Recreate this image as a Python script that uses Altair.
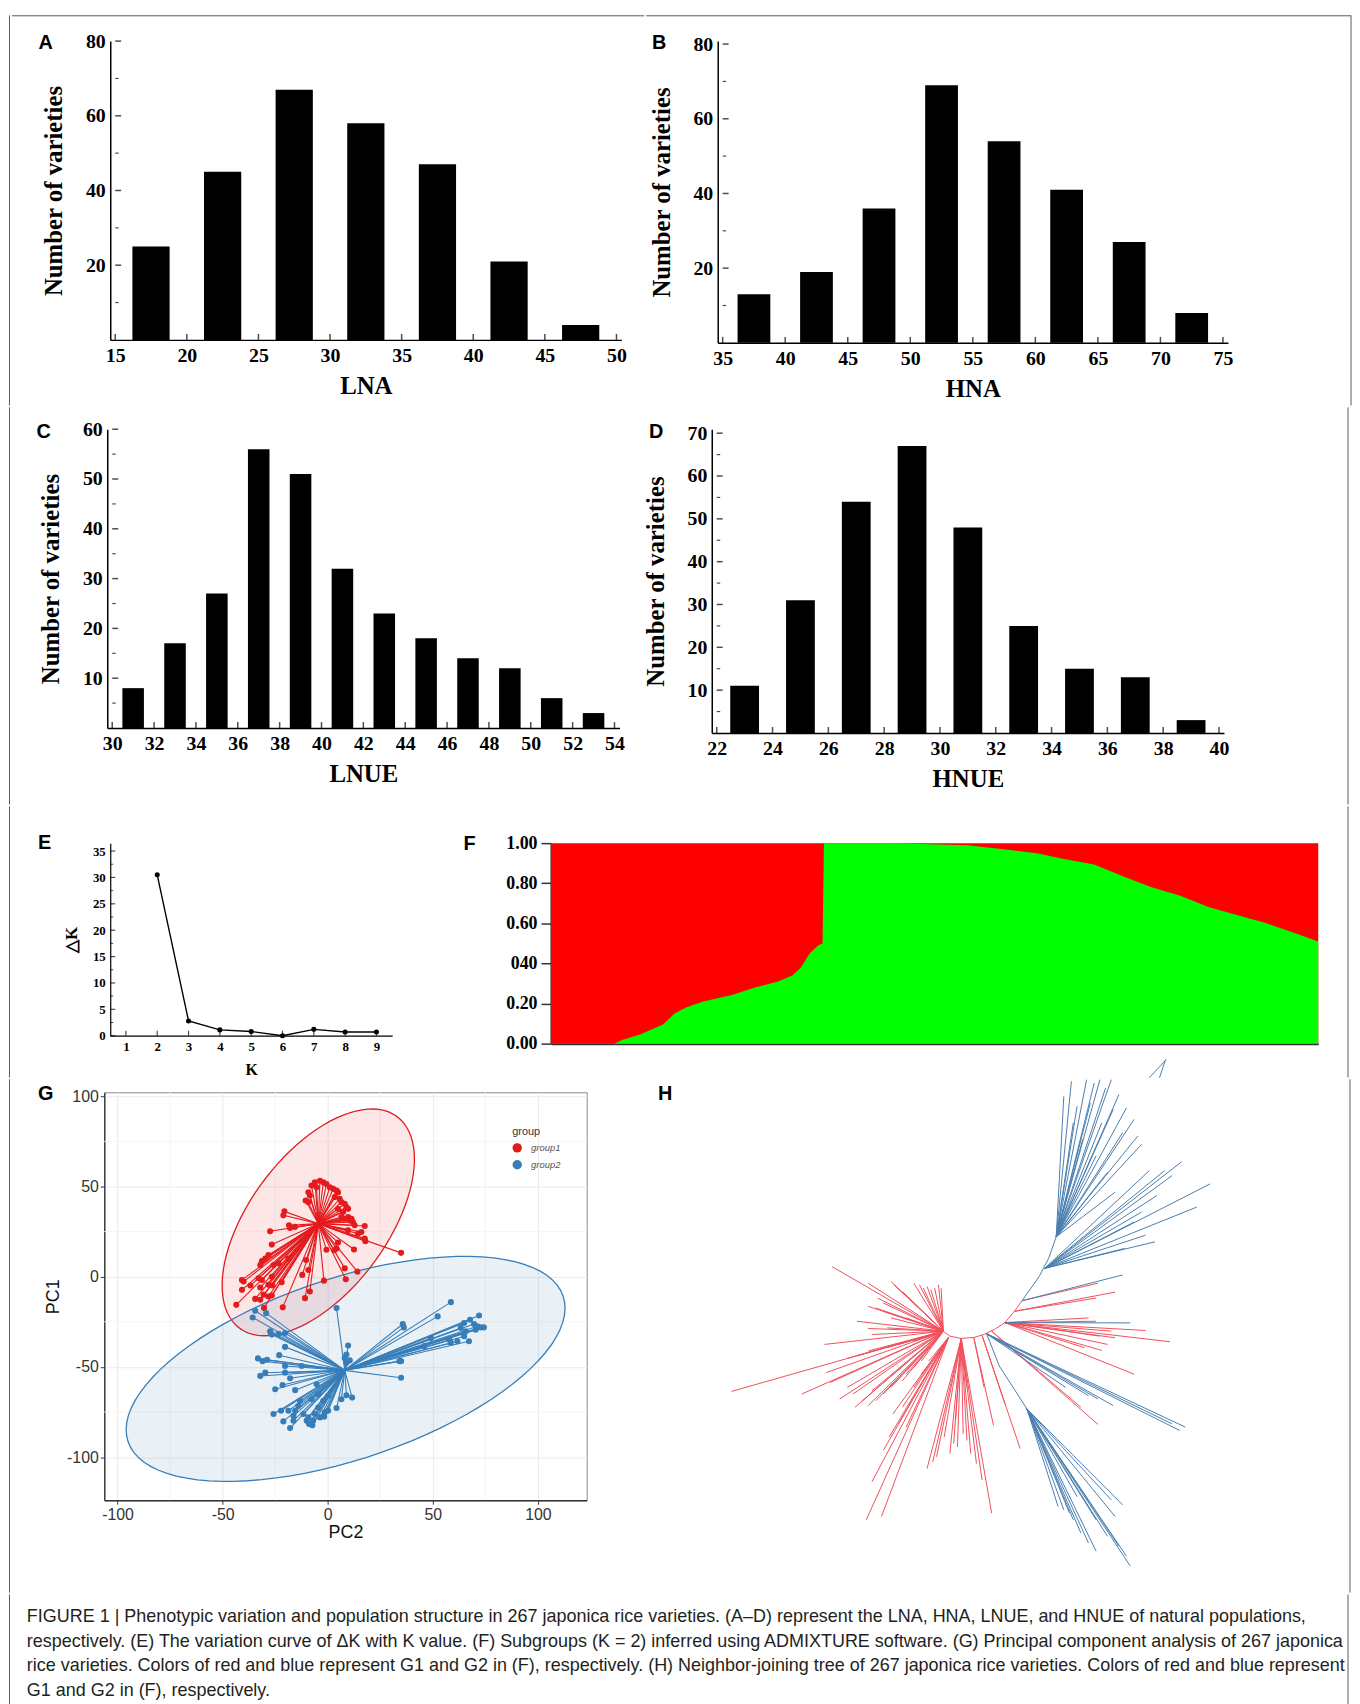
import math
import altair as alt
import pandas as pd

SERIF = "Liberation Serif"
SANS = "Liberation Sans"
FRAME = "#5a5a5a"

# ---------------- A : LNA ----------------
lna_bins = [17.5, 22.5, 27.5, 32.5, 37.5, 42.5, 47.5]
lna_counts = [25, 45, 67, 58, 47, 21, 4]
lna_ticks = [15, 20, 25, 30, 35, 40, 45, 50]
# ---------------- B : HNA ----------------
hna_bins = [37.5, 42.5, 47.5, 52.5, 57.5, 62.5, 67.5, 72.5]
hna_counts = [13, 19, 36, 69, 54, 41, 27, 8]
hna_ticks = [35, 40, 45, 50, 55, 60, 65, 70, 75]
# ---------------- C : LNUE ----------------
lnue_bins = [31, 33, 35, 37, 39, 41, 43, 45, 47, 49, 51, 53]
lnue_counts = [8, 17, 27, 56, 51, 32, 23, 18, 14, 12, 6, 3]
lnue_ticks = [30, 32, 34, 36, 38, 40, 42, 44, 46, 48, 50, 52, 54]
# ---------------- D : HNUE ----------------
hnue_bins = [23, 25, 27, 29, 31, 33, 35, 37, 39]
hnue_counts = [11, 31, 54, 67, 48, 25, 15, 13, 3]
hnue_ticks = [22, 24, 26, 28, 30, 32, 34, 36, 38, 40]

count_ticks_80 = [20, 40, 60, 80]
count_minor_80 = [10, 30, 50, 70]
count_ticks_60 = [10, 20, 30, 40, 50, 60]
count_minor_60 = [5, 15, 25, 35, 45, 55]
count_ticks_70 = [10, 20, 30, 40, 50, 60, 70]
count_minor_70 = [5, 15, 25, 35, 45, 55, 65]

# ---------------- E : delta K ----------------
k_values = [2, 3, 4, 5, 6, 7, 8, 9]
dk_values = [30.5, 2.8, 1.1, 0.8, 0.0, 1.2, 0.7, 0.7]
k_ticks = [1, 2, 3, 4, 5, 6, 7, 8, 9]
dk_ticks = [0, 5, 10, 15, 20, 25, 30, 35]
dk_minor = [2.5, 7.5, 12.5, 17.5, 22.5, 27.5, 32.5]

# ---------------- F : ADMIXTURE (K=2) ----------------
f_pos = [0, 22, 25, 31, 39, 43, 47, 53, 63, 71, 79, 84, 87, 90, 93, 94.5, 95,
         119, 145, 159, 169, 179, 189, 199, 209, 219, 229, 239, 249, 259, 267]
f_green = [0, 0, 0.02, 0.046, 0.095, 0.15, 0.18, 0.21, 0.243, 0.28, 0.31, 0.34,
           0.38, 0.45, 0.49, 0.50, 1.0, 1.0, 0.99, 0.967, 0.95, 0.92, 0.893,
           0.835, 0.78, 0.737, 0.68, 0.64, 0.60, 0.55, 0.51]
f_ticks = [0, 0.2, 0.4, 0.6, 0.8, 1.0]

# ---------------- G : PCA ----------------
g1_pc2 = [-6.1, -3.7, -2.1, -0.6, -7.7, -5.3, 1.0, 2.6, 4.2, 4.9, -9.2, -8.5, 3.4, 5.7,
          6.5, 8.1, 8.9, 9.7, -10.5, -9.2, 4.9, 7.3, 9.7, 11.3, 12.0, 10.5, 8.1, 6.5,
          -20.6, -21.1, -18.4, -17.9, -15.6, -27.4, -26.6,
          12.8, 17.6, 16.0, 17.6, 17.9, 14.4, 9.7, 34.9, 12.5, 4.9, 4.2, 3.1, -0.6, 8.1, 14.1, 8.6,
          -31.3, -29.7, -32.1, -28.2, -25.8, -18.7, -23.4, -40.8, -40.0, -36.8, -40.8, -32.9,
          -31.3, -28.2, -26.3, -21.9, -26.6, -32.1, -30.5, -34.5, -32.1, -28.2, -43.5, -26.6,
          -10.3, -9.2, -12.1, -8.5, -10.8, -21.4, -1.8, -30.3]
g1_pc1 = [52.3, 53.2, 52.3, 51.4, 50.5, 49.6, 49.6, 48.7, 47.7, 46.8, 46.8, 45.0, 44.1, 43.2,
          41.3, 40.4, 38.6, 37.6, 42.2, 41.3, 37.6, 35.8, 33.1, 32.1, 30.3, 31.2, 32.1, 33.1,
          36.2, 34.0, 28.5, 27.0, 27.6, 25.2, 17.8,
          28.5, 28.1, 24.8, 21.1, 19.7, 23.9, 25.7, 13.2, 15.1, 18.9, 15.6, 14.7, 14.9, 4.6, 2.8, -1.4,
          8.7, 10.1, 6.5, 12.0, 6.5, 10.1, 7.4, -1.8, -2.7, -4.9, -7.3, -0.9,
          -1.8, -4.5, -4.9, -3.1, 0.0, -6.0, -10.0, -12.3, -12.8, -11.0, -15.6, -10.4,
          9.2, 3.7, 1.0, -8.2, -11.9, -17.0, -2.2, -17.3]
g2_pc2 = [-34.5, -29.3, -35.7, -27.4, -26.6, -23.4, -20.3, -27.1, 4.2,
          58.6, 52.3, 35.7, 36.2, 72.0, 67.7, 64.9, 69.6, 71.2, 72.8, 74.3, 70.4, 63.3, 65.7,
          49.1, 57.8, 61.7, 67.2, 64.9, 58.6, 46.0, 34.1, 34.9,
          9.7, 8.9, 8.1, 10.5, 8.9,
          -20.3, -23.1, -33.2, -31.0, -28.9, -20.3, -12.4, -29.7, -32.1, -20.3, -17.9, -21.5,
          -25.0, -15.5, -5.3, 34.9,
          -13.2, -7.7, -2.1, 6.5, 8.9, 11.6, 4.2, -25.8, -22.2, -18.7, -16.3, -15.5, -21.1,
          -16.3, -17.9, -11.6, -9.2, -6.9, -3.7, -1.4, 0.2, -1.7, -8.9, -7.3, -10.0, -6.1, -4.5,
          -14.0, -4.5, 0.2]
g2_pc1 = [-18.9, -20.2, -22.6, -30.3, -32.1, -31.7, -31.2, -31.2, -17.4,
          -14.1, -22.0, -26.2, -28.1, -21.5, -23.9, -25.7, -26.2, -27.5, -28.1, -28.1, -29.4, -28.4, -30.3,
          -34.0, -34.9, -35.8, -35.8, -33.0, -36.7, -38.5, -46.8, -46.8,
          -38.2, -43.1, -45.0, -46.4, -47.7,
          -38.9, -43.5, -45.3, -46.8, -46.1, -49.5, -49.5, -53.2, -55.0, -53.2, -56.3, -60.0,
          -62.4, -62.9, -59.6, -56.0,
          -68.8, -67.9, -68.8, -67.9, -65.7, -67.0, -72.8, -76.1, -74.3, -74.3, -77.1, -74.3, -80.2,
          -79.8, -83.9, -76.1, -78.0, -79.8, -78.0, -75.2, -74.3, -77.6, -81.6, -82.4, -79.8, -76.1, -72.5,
          -71.6, -65.1, -66.0]
g_groups = ["group1", "group2"]
g_centroid_pc2 = [-4.5, 8.1]
g_centroid_pc1 = [29.4, -51.9]
# ellipse parameters: centre, first and second semi-axis vectors
g_ell_centre = [(-4.5, 30.1), (8.5, -51.1)]
g_ell_u = [(37.5, 58.6), (103.5, 40.3)]
g_ell_v = [(26.2, -22.7), (13.7, -47.6)]
g_ticks = [-100, -50, 0, 50, 100]
g_minor = [-75, -25, 25, 75]

# ---------------- H : neighbour-joining tree (layout units) ----------------
h_red_backbone_x = [795, 815, 845, 878, 905, 935, 960, 985, 1005]
h_red_backbone_y = [828, 845, 852, 849, 840, 823, 804, 770, 738]
h_blue_backbone_x = [1005, 1050, 1075, 1095, 1110]
h_blue_backbone_y = [738, 665, 610, 545, 490]
h_blue_stem_x = [912, 945, 1018]
h_blue_stem_y = [838, 935, 1065]

h_red_left_hub = (798, 830)
h_red_left_x = [505, 600, 625, 640, 660, 668, 678, 690, 720, 735, 745, 755, 765, 775, 785, 792,
                600, 620, 640, 660, 700, 570, 600, 650, 610, 485, 545, 570, 600, 650, 680, 720,
                240, 425, 490, 500, 525, 545, 565, 580, 600, 620, 640, 660, 690, 700, 720, 740, 610, 560]
h_red_left_y = [635, 685, 730, 745, 680, 690, 700, 710, 685, 690, 700, 695, 705, 700, 690, 700,
                755, 760, 770, 790, 790, 800, 822, 820, 840, 870, 912, 905, 890, 880, 870, 860,
                1012, 1020, 955, 985, 1035, 1000, 1060, 1045, 1055, 1040, 1020, 1000, 980, 960, 940, 920, 1010, 1020]
h_red_bot1_hub = (812, 848)
h_red_bot1_x = [595, 635, 610, 640, 655, 665, 680, 700, 690, 720, 740, 760]
h_red_bot1_y = [1400, 1390, 1285, 1190, 1150, 1080, 1110, 1120, 1060, 1000, 960, 920]
h_red_bot2_hub = (845, 853)
h_red_bot2_x = [755, 770, 780, 800, 815, 825, 835, 850, 860, 870, 885, 900, 925, 860, 830]
h_red_bot2_y = [1245, 1225, 1210, 1150, 1200, 1170, 1180, 1140, 1160, 1200, 1230, 1280, 1380, 1000, 1100]
h_red_a_hub = (878, 849)
h_red_a_x = [930, 905]
h_red_a_y = [1115, 1000]
h_red_b_hub = (900, 843)
h_red_b_x = [1000, 960]
h_red_b_y = [1185, 1050]
h_red_c_hub = (925, 830)
h_red_c_x = [1205, 1160]
h_red_c_y = [1112, 1060]
h_red_right_hub = (960, 804)
h_red_right_x = [1395, 1330, 1300, 1215, 1230, 1250, 1200, 1180, 1240, 1210, 1170]
h_red_right_y = [862, 828, 960, 888, 870, 850, 800, 790, 830, 845, 880]
h_red_d_hub = (985, 770)
h_red_d_x = [1250, 1200]
h_red_d_y = [712, 730]
h_red_e_hub = (1005, 738)
h_red_e_x = [1205]
h_red_e_y = [685]

h_blue_a_hub = (912, 838)
h_blue_a_x = [1120, 1180, 1205, 1245, 1420, 1435, 1400]
h_blue_a_y = [1000, 1025, 1035, 1055, 1130, 1120, 1110]
h_blue_low_hub = (1018, 1065)
h_blue_low_x = [1100, 1115, 1130, 1140, 1160, 1180, 1200, 1230, 1250, 1270, 1240, 1290, 1280, 1260, 1200, 1150]
h_blue_low_y = [1360, 1370, 1380, 1400, 1440, 1470, 1495, 1450, 1390, 1355, 1340, 1540, 1510, 1480, 1400, 1330]
h_blue_b_hub = (960, 804)
h_blue_b_x = [1290]
h_blue_b_y = [805]
h_blue_c_hub = (1005, 738)
h_blue_c_x = [1270]
h_blue_c_y = [660]
h_blue_top_hub = (1095, 545)
h_blue_top_x = [1115, 1135, 1140, 1150, 1165, 1175, 1185, 1195, 1210, 1215, 1225, 1240, 1245, 1260,
                1270, 1280, 1300, 1310, 1320, 1250, 1200, 1230]
h_blue_top_y = [120, 75, 200, 150, 250, 70, 140, 80, 70, 200, 95, 70, 160, 115, 230, 155, 190, 240,
                265, 410, 300, 350]
h_blue_right_hub = (1065, 640)
h_blue_right_x = [1340, 1380, 1400, 1425, 1500, 1465, 1360, 1320, 1355, 1330, 1275, 1300]
h_blue_right_y = [345, 345, 360, 318, 385, 455, 420, 470, 560, 540, 580, 500]
h_blue_frag_x1 = [1345, 1372]
h_blue_frag_y1 = [70, 70]
h_blue_frag_x2 = [1390, 1388]
h_blue_frag_y2 = [15, 15]

caption_lines = [
    "FIGURE 1 | Phenotypic variation and population structure in 267 japonica rice varieties. (A\u2013D) represent the LNA, HNA, LNUE, and HNUE of natural populations,",
    "respectively. (E) The variation curve of \u0394K with K value. (F) Subgroups (K = 2) inferred using ADMIXTURE software. (G) Principal component analysis of 267 japonica",
    "rice varieties. Colors of red and blue represent G1 and G2 in (F), respectively. (H) Neighbor-joining tree of 267 japonica rice varieties. Colors of red and blue represent",
    "G1 and G2 in (F), respectively.",
]

G_RED = "#E41A1C"
G_BLUE = "#377EB8"
T_RED = "#F0505C"
T_BLUE = "#4A7EAF"
ONE = pd.DataFrame({"v": [0]})


def serif_axis(values, title, lsize, tsize, lpad, tpad, dwidth=1.5):
    # tick marks are drawn inward by separate tick layers
    return alt.Axis(values=values, title=title, grid=False, ticks=False,
                    labelFont=SERIF, labelFontWeight="bold", labelFontSize=lsize,
                    labelColor="black", labelFlush=False, labelOverlap=False,
                    labelPadding=lpad, titleFont=SERIF, titleFontWeight="bold",
                    titleFontSize=tsize, titleColor="black", titlePadding=tpad,
                    domainColor="black", domainWidth=dwidth)


def inward_ticks(vals, fixed, which, xs, ys, xax, yax, size, width):
    df = pd.DataFrame({"v": vals, "z": [fixed] * len(vals)})
    if which == "x":
        return alt.Chart(df).mark_tick(orient="vertical", size=size, thickness=width,
                                       color="black", yOffset=-size / 2).encode(
            x=alt.X("v:Q", scale=xs, axis=xax), y=alt.Y("z:Q", scale=ys, axis=yax))
    return alt.Chart(df).mark_tick(orient="horizontal", size=size, thickness=width,
                                   color="black", xOffset=size / 2).encode(
        y=alt.Y("v:Q", scale=ys, axis=yax), x=alt.X("z:Q", scale=xs, axis=xax))


def letter(ch, x, y):
    return alt.Chart(pd.DataFrame({"t": [ch]})).mark_text(
        font=SANS, fontWeight="bold", fontSize=20, color="black",
        align="center", baseline="middle").encode(
        x=alt.value(x), y=alt.value(y), text="t:N")


def box(x0, y0, x1, y1):
    # invisible cell extent used for the figure layout
    return alt.Chart(ONE).mark_rect(opacity=0).encode(
        x=alt.value(x0), x2=alt.value(x1), y=alt.value(y0), y2=alt.value(y1))


def vline(x, y0, y1):
    return alt.Chart(ONE).mark_rule(color=FRAME, strokeWidth=1, strokeCap="square").encode(
        x=alt.value(x), y=alt.value(y0 + 0.5), y2=alt.value(y1 - 0.5))


def hline(y, x0, x1):
    return alt.Chart(ONE).mark_rule(color=FRAME, strokeWidth=1).encode(
        y=alt.value(y + 0.5), x=alt.value(x0), x2=alt.value(x1))


def edge(y0, y1):
    # left edge of the figure frame, first cell of every row
    return alt.layer(box(0, y0, 1, y1), vline(0.5, y0, y1)).properties(width=1, height=1)


def hist(bins, counts, xdom, xticks, ydom, yticks, yminor, xtitle, w, h, bar, extra):
    df = pd.DataFrame({"bin": bins, "count": counts})
    xs = alt.Scale(domain=xdom, nice=False, zero=False)
    ys = alt.Scale(domain=ydom, nice=False)
    xax = serif_axis(xticks, xtitle, 20, 25, 6, 8)
    yax = serif_axis(yticks, "Number of varieties", 20, 25, 5, 19)
    bars = alt.Chart(df).mark_bar(color="black", size=bar).encode(
        x=alt.X("bin:Q", scale=xs, axis=xax), y=alt.Y("count:Q", scale=ys, axis=yax))
    return alt.layer(
        bars,
        inward_ticks(xticks, ydom[0], "x", xs, ys, xax, yax, 6, 1.5),
        inward_ticks(yticks, xdom[0], "y", xs, ys, xax, yax, 6, 1.5),
        inward_ticks(yminor, xdom[0], "y", xs, ys, xax, yax, 3.5, 1.2),
        *extra).properties(width=w, height=h)


# Row 1: common origin y=33, rows span figure y 7..400, split at x=645
A = hist(lna_bins, lna_counts, [15, 50], lna_ticks, [0, 80], count_ticks_80, count_minor_80,
         "LNA", 515, 301, 37.5,
         [letter("A", -65, 2), box(-99, -26, 538, 367), hline(-26, -99, 538)])
B = hist(hna_bins, hna_counts, [35, 75], hna_ticks, [0, 80.8], count_ticks_80, count_minor_80,
         "HNA", 514, 304, 33,
         [letter("B", -59, 2), box(-72, -26, 638, 367), vline(638, -26, 367), hline(-26, -72, 638)])
# Row 2: origin y=422, span 400..800
C = hist(lnue_bins, lnue_counts, [30, 54], lnue_ticks, [0, 60], count_ticks_60, count_minor_60,
         "LNUE", 516, 301, 21.7,
         [letter("C", -64, 3), box(-97, -22, 540, 378)])
D = hist(hnue_bins, hnue_counts, [22, 40], hnue_ticks, [0, 70.93], count_ticks_70, count_minor_70,
         "HNUE", 516, 306, 29,
         [letter("D", -56, 3), box(-69, -22, 641, 378), vline(641, -22, 378)])

# Row 3: origin y=837, span 800..1073, split at x=440
e_df = pd.DataFrame({"K": k_values, "dK": dk_values})
e_xs = alt.Scale(domain=[0.5, 9.5], nice=False, zero=False)
e_ys = alt.Scale(domain=[0, 36.5], nice=False)
e_xax = serif_axis(k_ticks, "K", 13, 16, 5, 8, dwidth=1.2)
e_yax = serif_axis(dk_ticks, "\u25b3K", 13, 17, 5, 12, dwidth=1.2)
e_x = alt.X("K:Q", scale=e_xs, axis=e_xax)
e_y = alt.Y("dK:Q", scale=e_ys, axis=e_yax)
e_line = alt.Chart(e_df).mark_line(color="black", strokeWidth=1.4).encode(x=e_x, y=e_y)
e_pts = alt.Chart(e_df).mark_point(filled=True, color="black", size=26, opacity=1).encode(x=e_x, y=e_y)
E = alt.layer(e_line, e_pts,
              inward_ticks(k_ticks, 0, "x", e_xs, e_ys, e_xax, e_yax, 5, 1.2),
              inward_ticks(dk_ticks, 0.5, "y", e_xs, e_ys, e_xax, e_yax, 5, 1.2),
              inward_ticks(dk_minor, 0.5, "y", e_xs, e_ys, e_xax, e_yax, 3, 1),
              letter("E", -66, 0), box(-100, -37, 332, 236)).properties(width=284, height=194)

f_df = pd.DataFrame({"pos": f_pos, "green": f_green})
f_xs = alt.Scale(domain=[0, 267], nice=False, zero=False)
f_ys = alt.Scale(domain=[0, 1], nice=False)
f_xaxis = alt.Axis(labels=False, ticks=False, title=None, grid=False, domainColor="#333", domainWidth=2)
f_yaxis = alt.Axis(values=f_ticks, title=None, grid=False,
                   labelExpr="datum.value == 0.4 ? '040' : format(datum.value, '.2f')",
                   labelFont=SERIF, labelFontWeight="bold", labelFontSize=18, labelColor="black",
                   labelPadding=4, labelOverlap=False, labelFlush=False,
                   tickSize=10, tickColor="#333", tickWidth=1.5, domainColor="#333", domainWidth=2)
f_red = alt.Chart(f_df).transform_calculate(one="1").mark_area(color="#FF0000", opacity=1).encode(
    x=alt.X("pos:Q", scale=f_xs, axis=f_xaxis),
    y=alt.Y("one:Q", scale=f_ys, axis=f_yaxis))
f_grn = alt.Chart(f_df).mark_area(color="#00FF00", opacity=1).encode(
    x=alt.X("pos:Q", scale=f_xs, axis=f_xaxis),
    y=alt.Y("green:Q", scale=f_ys, axis=f_yaxis, stack=None))
# two cut-off tree tips that sit just above panel H (tree layout units)
frag_df = pd.DataFrame({"x": h_blue_frag_x1, "y": h_blue_frag_y1,
                        "x2": h_blue_frag_x2, "y2": h_blue_frag_y2})
frag = alt.Chart(frag_df).mark_rule(color=T_BLUE, strokeWidth=1).encode(
    x=alt.X("x:Q", scale=alt.Scale(domain=[-230, 1789.9], nice=False, zero=False), axis=None),
    y=alt.Y("y:Q", scale=alt.Scale(domain=[-639, -33], nice=False, zero=False, reverse=True), axis=None),
    x2="x2:Q", y2="y2:Q")
F = alt.layer(alt.layer(f_red, f_grn), frag, letter("F", -82, 1), box(-112, -37, 803, 236),
              vline(803, -37, 236)).resolve_scale(x="independent", y="independent").properties(
    width=773, height=202)

# Row 4: origin y=1086, span 1073..1590, split at x=620
rows = []
for grp, xs_, ys_, cx, cy in [("group1", g1_pc2, g1_pc1, g_centroid_pc2[0], g_centroid_pc1[0]),
                              ("group2", g2_pc2, g2_pc1, g_centroid_pc2[1], g_centroid_pc1[1])]:
    for a, b in zip(xs_, ys_):
        rows.append({"pc2": a, "pc1": b, "cx": cx, "cy": cy, "group": grp})
g_df = pd.DataFrame(rows)

ell_rows = []
for grp, c, u, v in zip(g_groups, g_ell_centre, g_ell_u, g_ell_v):
    for i in range(90):
        t = 2 * math.pi * i / 90
        ell_rows.append({"ex": c[0] + u[0] * math.cos(t) + v[0] * math.sin(t),
                         "ey": c[1] + u[1] * math.cos(t) + v[1] * math.sin(t),
                         "t": i, "group": grp})
ell_df = pd.DataFrame(ell_rows)

g_xs = alt.Scale(domain=[-106.3, 123.2], nice=False, zero=False)
g_ys = alt.Scale(domain=[-123.9, 102.2], nice=False, zero=False)
g_style = dict(values=g_ticks, grid=True, gridColor="#EBEBEB", gridWidth=1,
               labelFont=SANS, labelFontSize=16, labelColor="#333", labelFlush=False,
               labelOverlap=False, labelPadding=2, labelExpr="'' + datum.value",
               tickColor="#333", tickSize=4, tickWidth=1, domainColor="#333", domainWidth=1.3,
               titleFont=SANS, titleFontSize=18, titleFontWeight="normal", titleColor="#111")
g_xaxis = alt.Axis(title="PC2", titlePadding=2, **g_style)
g_yaxis = alt.Axis(title="PC1", titlePadding=4, **g_style)
g_color = alt.Scale(domain=g_groups, range=[G_RED, G_BLUE])

g_minor_df = pd.DataFrame({"v": g_minor})
g_minor_x = alt.Chart(g_minor_df).mark_rule(color="#F5F5F5", strokeWidth=1).encode(
    x=alt.X("v:Q", scale=g_xs, axis=g_xaxis))
g_minor_y = alt.Chart(g_minor_df).mark_rule(color="#F5F5F5", strokeWidth=1).encode(
    y=alt.Y("v:Q", scale=g_ys, axis=g_yaxis))


def g_ellipse(grp, col):
    return alt.Chart(ell_df).transform_filter(alt.datum.group == grp).mark_line(
        interpolate="linear-closed", fill=col, fillOpacity=0.11, stroke=col, strokeWidth=1.3).encode(
        x=alt.X("ex:Q", scale=g_xs, axis=g_xaxis),
        y=alt.Y("ey:Q", scale=g_ys, axis=g_yaxis),
        order=alt.Order("t:Q"))


def g_segments(grp, col):
    return alt.Chart(g_df).transform_filter(alt.datum.group == grp).mark_rule(
        strokeWidth=1.1, color=col).encode(
        x=alt.X("pc2:Q", scale=g_xs, axis=g_xaxis),
        y=alt.Y("pc1:Q", scale=g_ys, axis=g_yaxis),
        x2="cx:Q", y2="cy:Q")


g_pts = alt.Chart(g_df).mark_circle(size=38, opacity=1).encode(
    x=alt.X("pc2:Q", scale=g_xs, axis=g_xaxis),
    y=alt.Y("pc1:Q", scale=g_ys, axis=g_yaxis),
    color=alt.Color("group:N", scale=g_color,
                    legend=alt.Legend(title="group", orient="none", legendX=411, legendY=34,
                                      titleFont=SANS, titleFontSize=11, titleFontWeight="normal",
                                      titleColor="#333", titlePadding=6,
                                      labelFont=SANS, labelFontSize=9.5, labelFontStyle="italic",
                                      labelColor="#555", labelOffset=9,
                                      symbolType="circle", symbolSize=90, symbolStrokeWidth=0,
                                      rowPadding=7)))
G = alt.layer(g_minor_x, g_minor_y, g_ellipse("group1", G_RED), g_ellipse("group2", G_BLUE),
              g_segments("group1", G_RED), g_segments("group2", G_BLUE), g_pts,
              letter("G", -59, 2), box(-93, -13, 519, 504)).properties(
    width=486, height=411, view=alt.ViewBackground(stroke="#8a8a8a", strokeWidth=1))

red_segs = []
blue_segs = []


def add_path(store, xs, ys):
    for i in range(len(xs) - 1):
        store.append({"x": xs[i], "y": ys[i], "x2": xs[i + 1], "y2": ys[i + 1]})


def add_fan(store, hub, xs, ys):
    for a, b in zip(xs, ys):
        store.append({"x": hub[0], "y": hub[1], "x2": a, "y2": b})


add_path(red_segs, h_red_backbone_x, h_red_backbone_y)
add_path(blue_segs, h_blue_backbone_x, h_blue_backbone_y)
add_path(blue_segs, h_blue_stem_x, h_blue_stem_y)
add_fan(red_segs, h_red_left_hub, h_red_left_x, h_red_left_y)
add_fan(red_segs, h_red_bot1_hub, h_red_bot1_x, h_red_bot1_y)
add_fan(red_segs, h_red_bot2_hub, h_red_bot2_x, h_red_bot2_y)
add_fan(red_segs, h_red_a_hub, h_red_a_x, h_red_a_y)
add_fan(red_segs, h_red_b_hub, h_red_b_x, h_red_b_y)
add_fan(red_segs, h_red_c_hub, h_red_c_x, h_red_c_y)
add_fan(red_segs, h_red_right_hub, h_red_right_x, h_red_right_y)
add_fan(red_segs, h_red_d_hub, h_red_d_x, h_red_d_y)
add_fan(red_segs, h_red_e_hub, h_red_e_x, h_red_e_y)
add_fan(blue_segs, h_blue_a_hub, h_blue_a_x, h_blue_a_y)
add_fan(blue_segs, h_blue_low_hub, h_blue_low_x, h_blue_low_y)
add_fan(blue_segs, h_blue_b_hub, h_blue_b_x, h_blue_b_y)
add_fan(blue_segs, h_blue_c_hub, h_blue_c_x, h_blue_c_y)
add_fan(blue_segs, h_blue_top_hub, h_blue_top_x, h_blue_top_y)
add_fan(blue_segs, h_blue_right_hub, h_blue_right_x, h_blue_right_y)

h_xs = alt.Scale(domain=[0, 1568], nice=False, zero=False)
h_ys = alt.Scale(domain=[108, 1560], nice=False, zero=False, reverse=True)


def tree_layer(segs, col):
    return alt.Chart(pd.DataFrame(segs)).mark_rule(color=col, strokeWidth=1).encode(
        x=alt.X("x:Q", scale=h_xs, axis=None),
        y=alt.Y("y:Q", scale=h_ys, axis=None),
        x2="x2:Q", y2="y2:Q")


H = alt.layer(tree_layer(red_segs, T_RED), tree_layer(blue_segs, T_BLUE),
              letter("H", 25, 2), box(-20, -13, 715, 504), vline(715, -13, 504)).properties(
    width=600, height=484)

# Row 5: caption, origin (24, 1600), span 1590..1704
cap_df = pd.DataFrame({"line": [0, 1, 2, 3], "text": caption_lines})
cap_text = alt.Chart(cap_df).mark_text(align="left", baseline="middle", font=SANS,
                                        fontSize=18.1, color="#231f20").encode(
    y=alt.Y("line:O", axis=None, scale=alt.Scale(paddingInner=0, paddingOuter=0)),
    x=alt.value(0), text="text:N")
CAP = alt.layer(cap_text, box(-16, -10, 1331, 104), vline(1331, -10, 104)).properties(
    width=1300, height=100)

row1 = alt.hconcat(edge(-26, 367), A, B, spacing=0)
row2 = alt.hconcat(edge(-22, 378), C, D, spacing=0)
row3 = alt.hconcat(edge(-37, 236), E, F, spacing=0)
row4 = alt.hconcat(edge(-13, 504), G, H, spacing=0).resolve_scale(
    color="independent").resolve_legend(color="independent")
row5 = alt.hconcat(edge(-10, 104), CAP, spacing=0)

chart = alt.vconcat(row1, row2, row3, row4, row5, spacing=0).resolve_scale(
    color="independent").resolve_legend(color="independent").properties(
    padding=0, background="white").configure_view(stroke=None)

chart.save("out.html", embed_options={"renderer": "svg", "actions": False})
